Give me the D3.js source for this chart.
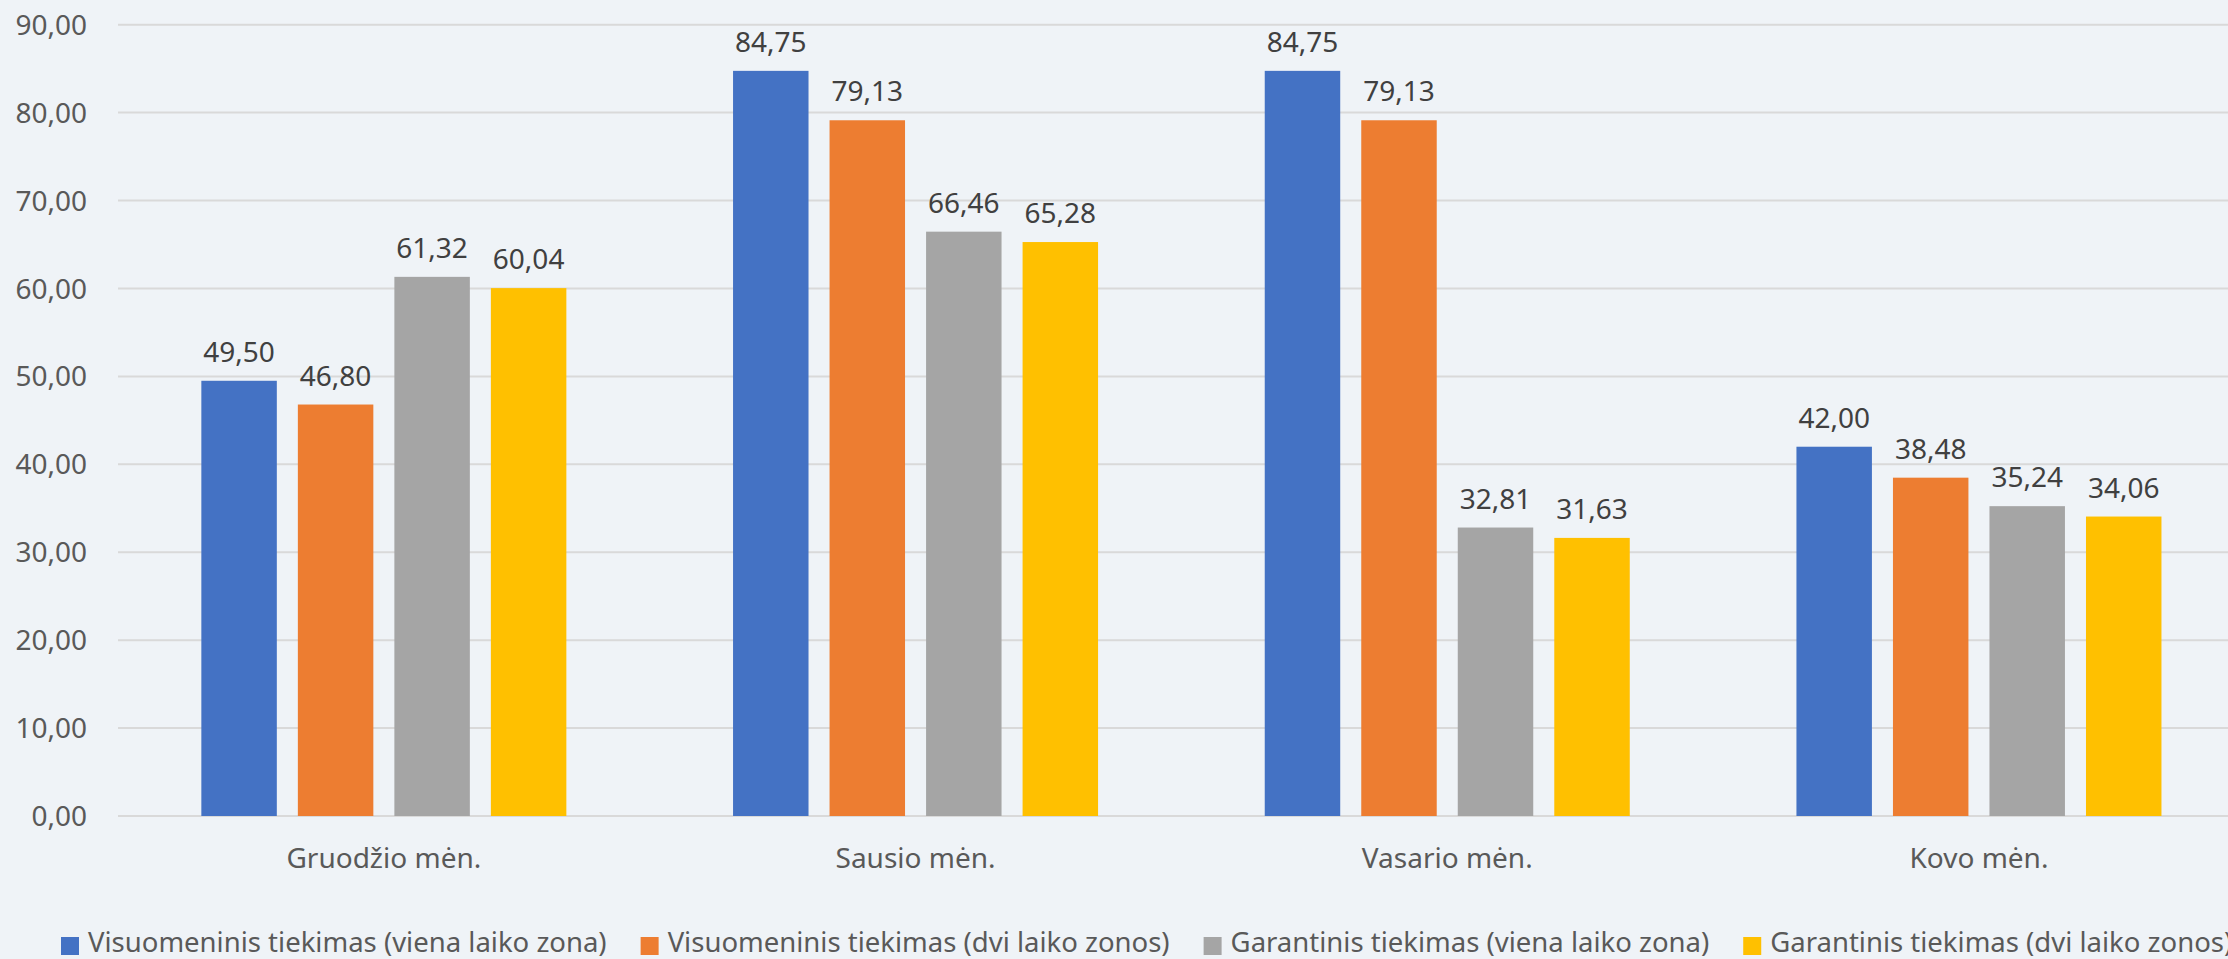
<!DOCTYPE html>
<html>
<head>
<meta charset="utf-8">
<script src="https://cdn.jsdelivr.net/npm/d3@7"></script>
<style>
  body { margin: 0; background: #eff3f7; overflow: hidden; }
  text { font-family: "Noto Sans", "Open Sans", sans-serif; }
</style>
</head>
<body>
<script>
/* Data */
var months = ["Gruodžio mėn.", "Sausio mėn.", "Vasario mėn.", "Kovo mėn."];
var seriesNames = [
  "Visuomeninis tiekimas (viena laiko zona)",
  "Visuomeninis tiekimas (dvi laiko zonos)",
  "Garantinis tiekimas (viena laiko zona)",
  "Garantinis tiekimas (dvi laiko zonos)"
];
var visViena = [49.50, 84.75, 84.75, 42.00];
var visDvi = [46.80, 79.13, 79.13, 38.48];
var garViena = [61.32, 66.46, 32.81, 35.24];
var garDvi = [60.04, 65.28, 31.63, 34.06];
var yTicks = [0, 10, 20, 30, 40, 50, 60, 70, 80, 90];
var colors = ["#4472c4", "#ed7d31", "#a5a5a5", "#ffc000"];

/* Constants */
const WIDTH = 2228;
const HEIGHT = 959;
var PLOT_LEFT = 118;
var STEP = 531.7;

var series = [visViena, visDvi, garViena, garDvi];
var fmt = d3.formatLocale({decimal: ",", thousands: " ", grouping: [3], currency: ["", ""]}).format(".2f");

var svg = d3.select("body").append("svg")
    .attr("width", WIDTH)
    .attr("height", HEIGHT);

svg.append("rect")
    .attr("width", WIDTH)
    .attr("height", HEIGHT)
    .attr("fill", "#eff3f7");

var x0 = d3.scaleBand()
    .domain(months)
    .range([PLOT_LEFT, PLOT_LEFT + STEP * months.length])
    .paddingInner(0.3135)
    .paddingOuter(0.15675);

var x1 = d3.scaleBand()
    .domain(d3.range(seriesNames.length))
    .range([0, x0.bandwidth()])
    .paddingInner(0.218);

var y = d3.scaleLinear().domain([0, 90]).range([816, 24.7]);

// gridlines
svg.append("g")
    .selectAll("line")
    .data(yTicks)
    .join("line")
    .attr("x1", PLOT_LEFT)
    .attr("x2", WIDTH)
    .attr("y1", d => y(d))
    .attr("y2", d => y(d))
    .attr("stroke", "#d9d9d9")
    .attr("stroke-width", 2);

// y labels
svg.append("g")
    .selectAll("text")
    .data(yTicks)
    .join("text")
    .attr("x", 87)
    .attr("y", d => y(d))
    .attr("dy", "0.36em")
    .attr("text-anchor", "end")
    .attr("font-size", 28)
    .attr("fill", "#595959")
    .text(d => fmt(d));

// bars
var groups = svg.append("g")
    .selectAll("g")
    .data(months)
    .join("g")
    .attr("transform", d => "translate(" + x0(d) + ",0)");

groups.selectAll("rect")
    .data((m, i) => series.map((s, k) => ({k: k, v: s[i]})))
    .join("rect")
    .attr("x", d => x1(d.k))
    .attr("width", x1.bandwidth())
    .attr("y", d => y(d.v))
    .attr("height", d => y(0) - y(d.v))
    .attr("fill", d => colors[d.k]);

groups.selectAll("text")
    .data((m, i) => series.map((s, k) => ({k: k, v: s[i]})))
    .join("text")
    .attr("x", d => x1(d.k) + x1.bandwidth() / 2)
    .attr("y", d => y(d.v) - 19)
    .attr("text-anchor", "middle")
    .attr("font-size", 28)
    .attr("fill", "#404040")
    .text(d => fmt(d.v));

// x labels
svg.append("g")
    .selectAll("text")
    .data(months)
    .join("text")
    .attr("x", d => x0(d) + x0.bandwidth() / 2)
    .attr("y", 868)
    .attr("text-anchor", "middle")
    .attr("font-size", 28)
    .attr("fill", "#595959")
    .text(d => d);

// legend (last entry runs off the right edge, as in the original)
var lx = 61;
var legend = svg.append("g");
seriesNames.forEach(function(name, k) {
  legend.append("rect")
      .attr("x", lx)
      .attr("y", 937)
      .attr("width", 18)
      .attr("height", 18)
      .attr("fill", colors[k]);
  var t = legend.append("text")
      .attr("x", lx + 27)
      .attr("y", 952)
      .attr("font-size", 27.5)
      .attr("fill", "#595959")
      .text(name);
  lx = lx + 27 + t.node().getComputedTextLength() + 34;
});
</script>
</body>
</html>
